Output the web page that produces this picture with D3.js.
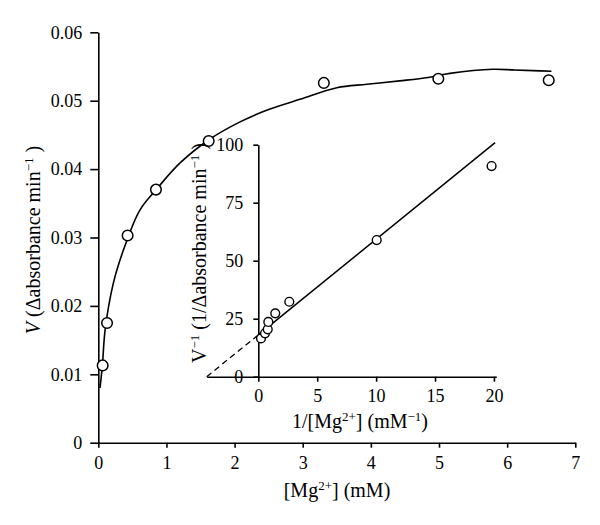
<!DOCTYPE html>
<html>
    <head>
        <meta charset="utf-8">
        <script src="https://d3js.org/d3.v7.min.js"></script>
        <style>
            body { margin: 0; background: #fff; }
            text { font-family: "Liberation Serif", "Times New Roman", serif; fill: #000; }
        </style>
    </head>
    <body>
        <div id="my_dataviz"></div>
        <script>
            // main plot: rate vs [Mg2+]
            const mgConc = [0.064, 0.128, 0.43, 0.846, 1.62, 3.31, 4.99, 6.61];
            const rate = [0.0113, 0.0175, 0.0303, 0.0370, 0.0441, 0.0526, 0.0532, 0.0530];
            // fitted curve
            const curveX = [0.025, 0.06, 0.10, 0.22, 0.37, 0.61, 0.85, 1.2, 1.64, 2.08, 2.47, 2.96, 3.5, 3.94, 4.42, 4.84, 5.16, 5.79, 6.09, 6.38, 6.65];
            const curveY = [0.0080, 0.0113, 0.0165, 0.0233, 0.0282, 0.0340, 0.0370, 0.0409, 0.0444, 0.0469, 0.0486, 0.0502, 0.0519, 0.0524, 0.0529, 0.0534, 0.0540, 0.0546, 0.0545, 0.0544, 0.0543];
            const mainXTicks = [0, 1, 2, 3, 4, 5, 6, 7];
            const mainYTicks = [0, 0.01, 0.02, 0.03, 0.04, 0.05, 0.06];

            // inset: double reciprocal
            const invConc = [0.23, 0.57, 0.8, 0.85, 1.44, 2.63, 10.05, 19.8];
            const invRate = [16.5, 18.7, 20.4, 23.6, 27.3, 32.3, 58.9, 90.8];
            const fitDashX = [-4.38, 0];
            const fitDashY = [0, 18];
            const fitSolidX = [0, 20.1];
            const fitSolidY = [18, 100.9];
            const insetXTicks = [0, 5, 10, 15, 20];
            const insetYTicks = [0, 25, 50, 75, 100];

            const W = 600, H = 525;
            const svg = d3.select("#my_dataviz")
                .append("svg")
                    .attr("width", W)
                    .attr("height", H);

            const x = d3.scaleLinear().domain([0, 7]).range([98.3, 575.3]);
            const y = d3.scaleLinear().domain([0, 0.06]).range([442.7, 32.3]);

            const fontSize = 18;
            const titleSize = 20;

            // main axes
            svg.append("g")
                .attr("transform", `translate(0, ${y(0)})`)
                .call(d3.axisBottom(x).tickValues(mainXTicks).tickFormat(d3.format("d"))
                    .tickSizeInner(5).tickSizeOuter(0).tickPadding(9));
            svg.append("g")
                .attr("transform", `translate(${x(0)}, 0)`)
                .call(d3.axisLeft(y).tickValues(mainYTicks).tickFormat(d => d === 0 ? "0" : d3.format(".2f")(d))
                    .tickSizeInner(8).tickSizeOuter(0).tickPadding(8));

            // inset scales
            const ix = d3.scaleLinear().domain([-4.38, 20.2]).range([206.7, 496.3]);
            const iy = d3.scaleLinear().domain([0, 100]).range([376.7, 144.7]);

            svg.append("g")
                .attr("transform", `translate(0, ${iy(0)})`)
                .call(d3.axisBottom(ix).tickValues(insetXTicks)
                    .tickSizeInner(5).tickSizeOuter(0).tickPadding(8));
            svg.append("g")
                .attr("transform", `translate(${ix(0)}, 0)`)
                .call(d3.axisLeft(iy).tickValues(insetYTicks)
                    .tickSizeInner(5).tickSizeOuter(0).tickPadding(10));

            svg.selectAll(".domain, .tick line")
                .attr("stroke", "#000")
                .attr("stroke-width", 1.6);
            svg.selectAll(".tick text")
                .style("font-family", "'Liberation Serif', serif")
                .style("font-size", fontSize + "px")
                .attr("fill", "#000");

            // main fitted curve
            const curvePts = curveX.map((d, i) => [d, curveY[i]]);
            svg.append("path")
                .datum(curvePts)
                .attr("fill", "none")
                .attr("stroke", "#000")
                .attr("stroke-width", 1.6)
                .attr("d", d3.line().x(d => x(d[0])).y(d => y(d[1])).curve(d3.curveCatmullRom));

            // inset fit line
            svg.append("path")
                .datum(fitDashX.map((d, i) => [d, fitDashY[i]]))
                .attr("fill", "none")
                .attr("stroke", "#000")
                .attr("stroke-width", 1.3)
                .attr("stroke-dasharray", "6,4")
                .attr("d", d3.line().x(d => ix(d[0])).y(d => iy(d[1])));
            svg.append("path")
                .datum(fitSolidX.map((d, i) => [d, fitSolidY[i]]))
                .attr("fill", "none")
                .attr("stroke", "#000")
                .attr("stroke-width", 1.5)
                .attr("d", d3.line().x(d => ix(d[0])).y(d => iy(d[1])));

            // points
            svg.append("g")
                .selectAll("circle")
                .data(mgConc.map((d, i) => [d, rate[i]]))
                .join("circle")
                    .attr("cx", d => x(d[0]))
                    .attr("cy", d => y(d[1]))
                    .attr("r", 5.3)
                    .attr("fill", "#fff")
                    .attr("stroke", "#000")
                    .attr("stroke-width", 1.5);
            svg.append("g")
                .selectAll("circle")
                .data(invConc.map((d, i) => [d, invRate[i]]))
                .join("circle")
                    .attr("cx", d => ix(d[0]))
                    .attr("cy", d => iy(d[1]))
                    .attr("r", 4.4)
                    .attr("fill", "#fff")
                    .attr("stroke", "#000")
                    .attr("stroke-width", 1.4);

            // axis titles
            function sup(t, s) {
                t.append("tspan").attr("baseline-shift", "super").style("font-size", "13px").text(s);
            }

            const xt = svg.append("text")
                .attr("x", 337).attr("y", 497)
                .attr("text-anchor", "middle")
                .style("font-size", titleSize + "px");
            xt.append("tspan").text("[Mg");
            sup(xt, "2+");
            xt.append("tspan").text("] (mM)");

            const ixt = svg.append("text")
                .attr("x", 360).attr("y", 428)
                .attr("text-anchor", "middle")
                .style("font-size", titleSize + "px");
            ixt.append("tspan").text("1/[Mg");
            sup(ixt, "2+");
            ixt.append("tspan").text("] (mM");
            sup(ixt, "\u22121");
            ixt.append("tspan").text(")");

            const yt = svg.append("text")
                .attr("transform", "translate(40, 240) rotate(-90)")
                .attr("text-anchor", "middle")
                .style("font-size", titleSize + "px");
            yt.append("tspan").style("font-style", "italic").text("V");
            yt.append("tspan").text(" (\u0394absorbance min");
            sup(yt, "\u22121");
            yt.append("tspan").text(" )");

            const iyt = svg.append("text")
                .attr("transform", "translate(206, 253) rotate(-90)")
                .attr("text-anchor", "middle")
                .style("font-size", titleSize + "px");
            iyt.append("tspan").text("V");
            sup(iyt, "\u22121");
            iyt.append("tspan").text(" (1/\u0394absorbance min");
            sup(iyt, "\u22121");
            iyt.append("tspan").text(" )");
        </script>
    </body>
</html>
